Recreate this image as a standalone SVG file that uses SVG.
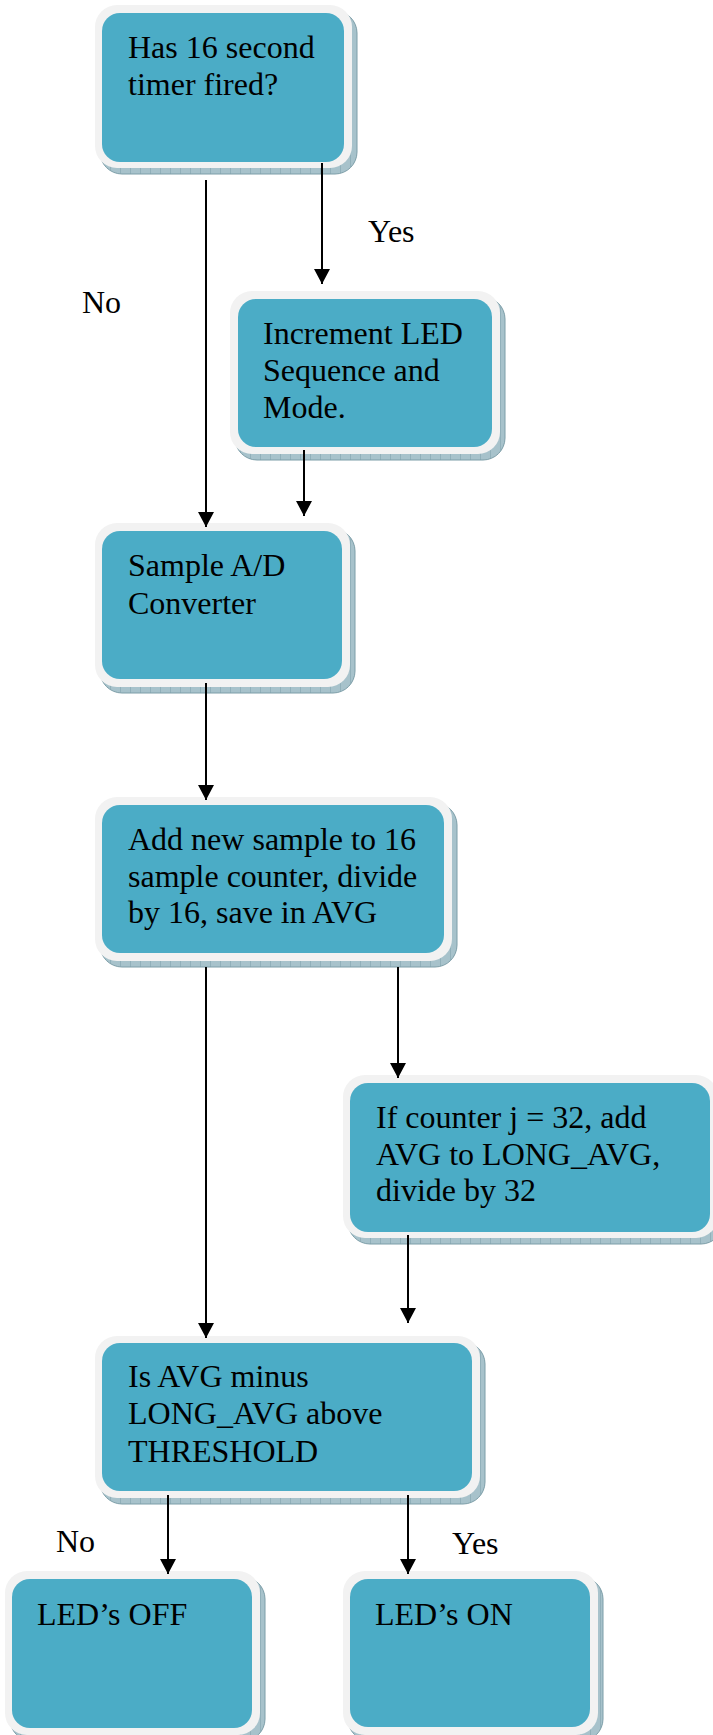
<svg xmlns="http://www.w3.org/2000/svg" width="713" height="1735" viewBox="0 0 713 1735">
<defs>
<pattern id="hatch" width="10" height="10" patternUnits="userSpaceOnUse">
<rect width="10" height="10" fill="#a7c2cb"/>
<path d="M0 0V10" stroke="#7b9ea9" stroke-width="1"/>
</pattern>
<marker id="arr" markerUnits="userSpaceOnUse" markerWidth="16" markerHeight="16" refX="15" refY="8" orient="auto">
<path d="M0,0 L15,8 L0,16 z" fill="#000"/>
</marker>
<style>
.sh{fill:url(#hatch);stroke:#7d9ea8;stroke-width:1}
.out{fill:#f2f2f2}
.in{fill:#4bacc6}
text{font-family:"Liberation Serif","Times New Roman",serif;font-size:32px;fill:#000}
.c line{stroke:#000;stroke-width:2;marker-end:url(#arr)}
.c line.p{marker-end:none}
</style>
</defs>

<g id="n1">
<rect class="sh" x="100" y="11" width="257" height="163" rx="22"/>
<rect class="out" x="95" y="5" width="257" height="163" rx="22"/>
<rect class="in" x="102" y="13" width="242" height="149" rx="18"/>
<text x="128" y="58">Has 16 second</text>
<text x="128" y="95">timer fired?</text>
</g>

<g id="n2">
<rect class="sh" x="235" y="297" width="270" height="163" rx="22"/>
<rect class="out" x="230" y="291" width="270" height="163" rx="22"/>
<rect class="in" x="238" y="299" width="254" height="148" rx="18"/>
<text x="263" y="344">Increment LED</text>
<text x="263" y="381">Sequence and</text>
<text x="263" y="418">Mode.</text>
</g>

<g id="n3">
<rect class="sh" x="100" y="529" width="255" height="164" rx="22"/>
<rect class="out" x="95" y="523" width="255" height="164" rx="22"/>
<rect class="in" x="102" y="531" width="240" height="148" rx="18"/>
<text x="128" y="576">Sample A/D</text>
<text x="128" y="614">Converter</text>
</g>

<g id="n4">
<rect class="sh" x="100" y="803" width="357" height="164" rx="22"/>
<rect class="out" x="95" y="797" width="357" height="164" rx="22"/>
<rect class="in" x="102" y="805" width="342" height="148" rx="18"/>
<text x="128" y="850">Add new sample to 16</text>
<text x="128" y="887">sample counter, divide</text>
<text x="128" y="923">by 16, save in AVG</text>
</g>

<g id="n5">
<rect class="sh" x="348" y="1081" width="375" height="163" rx="22"/>
<rect class="out" x="343" y="1075" width="375" height="163" rx="22"/>
<rect class="in" x="350" y="1083" width="360" height="149" rx="18"/>
<text x="376" y="1128">If counter j = 32, add</text>
<text x="376" y="1165">AVG to LONG_AVG,</text>
<text x="376" y="1201">divide by 32</text>
</g>

<g id="n6">
<rect class="sh" x="100" y="1342" width="385" height="162" rx="22"/>
<rect class="out" x="95" y="1336" width="385" height="162" rx="22"/>
<rect class="in" x="102" y="1343" width="370" height="148" rx="18"/>
<text x="128" y="1387">Is AVG minus</text>
<text x="128" y="1424">LONG_AVG above</text>
<text x="128" y="1462">THRESHOLD</text>
</g>

<g id="n7">
<rect class="sh" x="10" y="1577" width="255" height="164" rx="22"/>
<rect class="out" x="5" y="1571" width="255" height="164" rx="22"/>
<rect class="in" x="12" y="1579" width="240" height="149" rx="18"/>
<text x="37" y="1625">LED’s OFF</text>
</g>

<g id="n8">
<rect class="sh" x="348" y="1577" width="255" height="164" rx="22"/>
<rect class="out" x="343" y="1571" width="255" height="164" rx="22"/>
<rect class="in" x="350" y="1579" width="240" height="148" rx="18"/>
<text x="375" y="1625">LED’s ON</text>
</g>

<g id="connectors" class="c">
<line x1="206" y1="180" x2="206" y2="527"/>
<line x1="322" y1="163" x2="322" y2="284"/>
<line x1="304" y1="450" x2="304" y2="516"/>
<line x1="206" y1="683" x2="206" y2="800"/>
<line x1="206" y1="967" x2="206" y2="1338"/>
<line x1="398" y1="967" x2="398" y2="1078"/>
<line x1="408" y1="1235" x2="408" y2="1323"/>
<line x1="168" y1="1495" x2="168" y2="1574"/>
<line x1="408" y1="1495" x2="408" y2="1574"/>
</g>

<g id="labels">
<text x="368" y="242">Yes</text>
<text x="82" y="313">No</text>
<text x="56" y="1552">No</text>
<text x="452" y="1554">Yes</text>
</g>
</svg>
